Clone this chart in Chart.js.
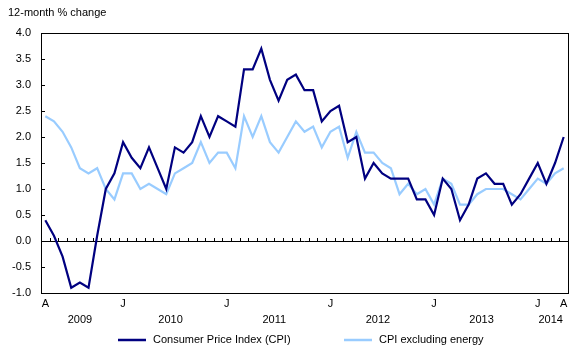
<!DOCTYPE html>
<html>
<head>
<meta charset="utf-8">
<script src="https://cdn.jsdelivr.net/npm/chart.js@4.4.1/dist/chart.umd.min.js"></script>
<style>
    html, body { margin: 0; padding: 0; background: #ffffff; }
    #wrap { width: 584px; height: 354px; }
</style>
</head>
<body>
<div id="wrap"><canvas id="cpiChart" width="584" height="354"></canvas></div>
<script>
// Months, April 2009 to April 2014
const categories = [
    '2009-04', '2009-05', '2009-06', '2009-07', '2009-08', '2009-09', '2009-10', '2009-11', '2009-12',
    '2010-01', '2010-02', '2010-03', '2010-04', '2010-05', '2010-06', '2010-07', '2010-08', '2010-09', '2010-10', '2010-11', '2010-12',
    '2011-01', '2011-02', '2011-03', '2011-04', '2011-05', '2011-06', '2011-07', '2011-08', '2011-09', '2011-10', '2011-11', '2011-12',
    '2012-01', '2012-02', '2012-03', '2012-04', '2012-05', '2012-06', '2012-07', '2012-08', '2012-09', '2012-10', '2012-11', '2012-12',
    '2013-01', '2013-02', '2013-03', '2013-04', '2013-05', '2013-06', '2013-07', '2013-08', '2013-09', '2013-10', '2013-11', '2013-12',
    '2014-01', '2014-02', '2014-03', '2014-04'
];

const cpi = [
    0.4, 0.1, -0.3, -0.9, -0.8, -0.9, 0.1, 1.0, 1.3,
    1.9, 1.6, 1.4, 1.8, 1.4, 1.0, 1.8, 1.7, 1.9, 2.4, 2.0, 2.4,
    2.3, 2.2, 3.3, 3.3, 3.7, 3.1, 2.7, 3.1, 3.2, 2.9, 2.9, 2.3,
    2.5, 2.6, 1.9, 2.0, 1.2, 1.5, 1.3, 1.2, 1.2, 1.2, 0.8, 0.8,
    0.5, 1.2, 1.0, 0.4, 0.7, 1.2, 1.3, 1.1, 1.1, 0.7, 0.9, 1.2,
    1.5, 1.1, 1.5, 2.0
];

const cpiExEnergy = [
    2.4, 2.3, 2.1, 1.8, 1.4, 1.3, 1.4, 1.0, 0.8,
    1.3, 1.3, 1.0, 1.1, 1.0, 0.9, 1.3, 1.4, 1.5, 1.9, 1.5, 1.7,
    1.7, 1.4, 2.4, 2.0, 2.4, 1.9, 1.7, 2.0, 2.3, 2.1, 2.2, 1.8,
    2.1, 2.2, 1.6, 2.1, 1.7, 1.7, 1.5, 1.4, 0.9, 1.1, 0.9, 1.0,
    0.7, 1.2, 1.1, 0.7, 0.7, 0.9, 1.0, 1.0, 1.0, 0.9, 0.8, 1.0,
    1.2, 1.1, 1.3, 1.4
];

// month letters shown under the axis
const monthTickCats = ['2009-04', '2010-01', '2011-01', '2012-01', '2013-01', '2014-01', '2014-04'];
const monthTickLabels = ['A', 'J', 'J', 'J', 'J', 'J', 'A'];
const years = ['2009', '2010', '2011', '2012', '2013', '2014'];

const seriesNames = ['Consumer Price Index (CPI)', 'CPI excluding energy'];
const seriesColors = ['#000080', '#99ccff'];
const yTitle = '12-month % change';

const FONT = "'Liberation Sans', Arial, sans-serif";
Chart.defaults.font.family = FONT;
Chart.defaults.font.size = 11;
Chart.defaults.color = '#000000';

// extra drawing: frame, zero line with month ticks, year row, legend, axis title
const decorPlugin = {
    id: 'decor',
    beforeDatasetsDraw(chart) {
        const ctx = chart.ctx;
        const area = chart.chartArea;
        const x = chart.scales.x;
        const y0 = chart.scales.y.getPixelForValue(0);
        ctx.save();
        ctx.strokeStyle = '#000000';
        ctx.lineWidth = 1;
        ctx.beginPath();
        ctx.moveTo(area.left, Math.round(y0) + 0.5);
        ctx.lineTo(area.right, Math.round(y0) + 0.5);
        for (let i = 1; i < categories.length; i++) {
            const bx = Math.round((x.getPixelForValue(i - 1) + x.getPixelForValue(i)) / 2) + 0.5;
            ctx.moveTo(bx, Math.round(y0) - 3);
            ctx.lineTo(bx, Math.round(y0));
        }
        ctx.stroke();
        ctx.restore();
    },
    afterDraw(chart) {
        const ctx = chart.ctx;
        const area = chart.chartArea;
        const x = chart.scales.x;
        const y = chart.scales.y;
        ctx.save();
        ctx.strokeStyle = '#000000';
        ctx.lineWidth = 1;
        ctx.strokeRect(Math.round(area.left) + 0.5, Math.round(area.top) + 0.5,
            Math.round(area.right - area.left), Math.round(area.bottom - area.top));

        // y tick stubs inside the frame
        ctx.beginPath();
        y.ticks.forEach(t => {
            const py = Math.round(y.getPixelForValue(t.value)) + 0.5;
            ctx.moveTo(area.left, py);
            ctx.lineTo(area.left + 4, py);
        });
        ctx.stroke();

        ctx.fillStyle = '#000000';
        ctx.font = '11px ' + FONT;
        ctx.textBaseline = 'middle';

        // year row
        ctx.textAlign = 'center';
        years.forEach(yr => {
            const idx = categories.map((c, i) => c.startsWith(yr) ? i : -1).filter(i => i >= 0);
            const cx = (x.getPixelForValue(idx[0]) + x.getPixelForValue(idx[idx.length - 1])) / 2;
            ctx.fillText(yr, cx, 320);
        });

        // axis title
        ctx.textAlign = 'left';
        ctx.fillText(yTitle, 8, 13);

        // legend
        const legendX = [118, 344];
        chart.data.datasets.forEach((ds, i) => {
            ctx.strokeStyle = ds.borderColor;
            ctx.lineWidth = 2.5;
            ctx.beginPath();
            ctx.moveTo(legendX[i], 340);
            ctx.lineTo(legendX[i] + 28, 340);
            ctx.stroke();
            ctx.fillText(ds.label, legendX[i] + 35, 340);
        });
        ctx.restore();
    }
};

const ctx = document.getElementById('cpiChart').getContext('2d');
let cpiChart = new Chart(ctx, {
    type: 'line',
    data: {
        labels: categories,
        datasets: [
            {
                label: seriesNames[0],
                data: cpi,
                borderColor: seriesColors[0],
                backgroundColor: seriesColors[0],
                borderWidth: 2.2,
                pointRadius: 0,
                tension: 0
            },
            {
                label: seriesNames[1],
                data: cpiExEnergy,
                borderColor: seriesColors[1],
                backgroundColor: seriesColors[1],
                borderWidth: 2.2,
                pointRadius: 0,
                tension: 0
            }
        ]
    },
    options: {
        responsive: false,
        animation: false,
        devicePixelRatio: 1,
        layout: { padding: { top: 33, right: 16, left: 0, bottom: 0 } },
        scales: {
            x: {
                type: 'category',
                offset: true,
                grid: { display: false, drawTicks: false },
                border: { display: false },
                ticks: {
                    autoSkip: false,
                    maxRotation: 0,
                    padding: 4,
                    callback: function(value) {
                        const k = monthTickCats.indexOf(categories[value]);
                        return k >= 0 ? monthTickLabels[k] : '';
                    }
                },
                afterFit: function(scale) { scale.height = 61; }
            },
            y: {
                min: -1,
                max: 4,
                grid: { display: false, drawTicks: false },
                border: { display: false },
                ticks: {
                    stepSize: 0.5,
                    padding: 10,
                    callback: v => v.toFixed(1)
                },
                afterFit: function(scale) { scale.width = 41; }
            }
        },
        plugins: {
            legend: { display: false },
            tooltip: { enabled: false }
        }
    },
    plugins: [decorPlugin]
});
</script>
</body>
</html>
